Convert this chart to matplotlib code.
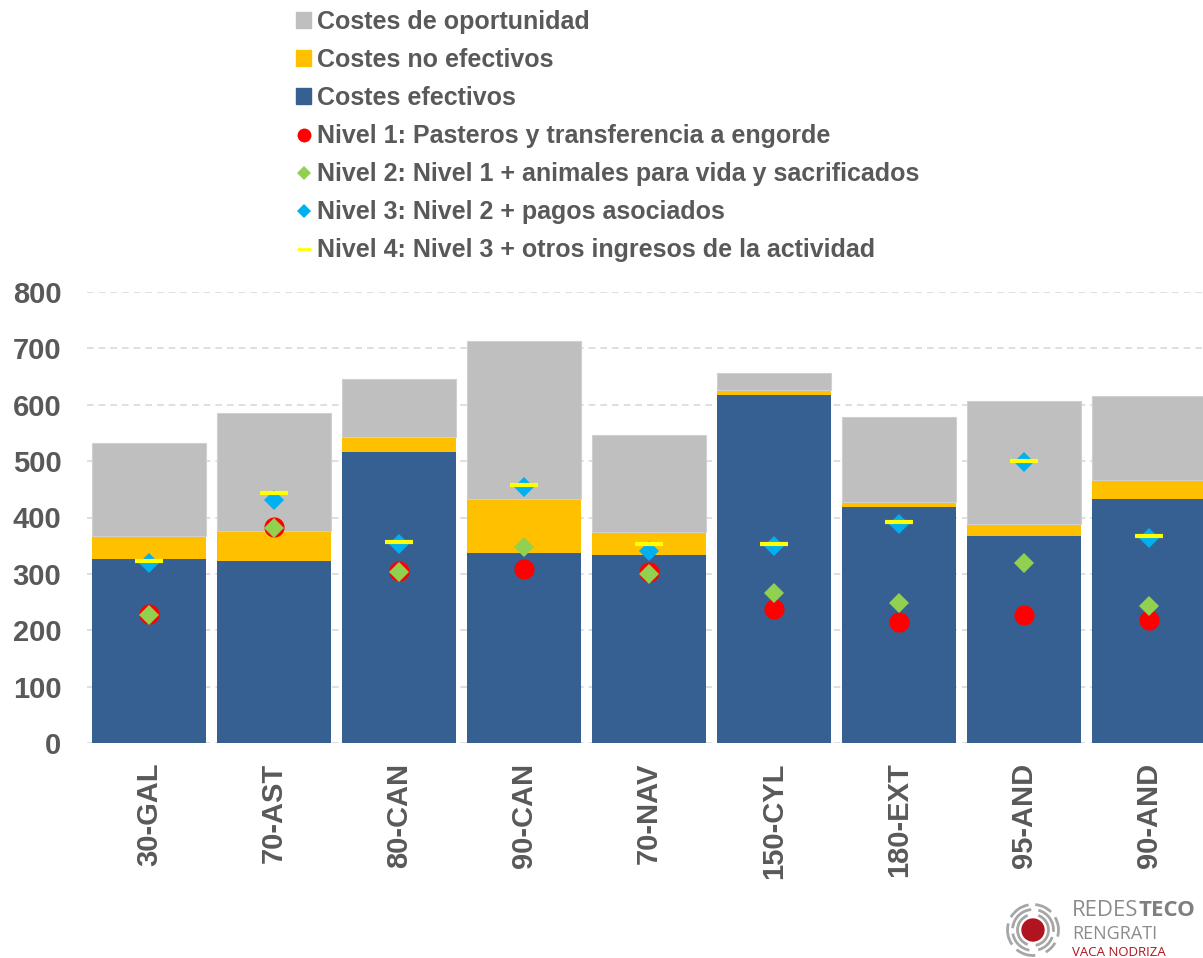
import matplotlib.pyplot as plt
from matplotlib.patches import Patch, Circle, Arc
from matplotlib.lines import Line2D

# Datos
categorias = ["30-GAL", "70-AST", "80-CAN", "90-CAN", "70-NAV", "150-CYL", "180-EXT", "95-AND", "90-AND"]
costes_efectivos = [326, 323, 516, 337, 333, 617, 418, 367, 432]
costes_no_efectivos = [42, 53, 26, 95, 41, 9, 9, 21, 34]
costes_oportunidad = [165, 210, 103, 281, 173, 31, 151, 218, 149]

nivel1 = [229, 384, 305, 308, 303, 238, 215, 227, 218]
nivel2 = [227, 382, 303, 347, 300, 266, 249, 319, 243]
nivel3 = [320, 431, 353, 454, 341, 350, 389, 498, 364]
nivel4 = [322, 443, 356, 457, 353, 353, 392, 501, 367]

etiquetas = [
    "Costes de oportunidad",
    "Costes no efectivos",
    "Costes efectivos",
    "Nivel 1: Pasteros y transferencia a engorde",
    "Nivel 2: Nivel 1 + animales para vida y sacrificados",
    "Nivel 3: Nivel 2 + pagos asociados",
    "Nivel 4: Nivel 3 + otros ingresos de la actividad",
]

# Colores
c_oport = "#BFBFBF"
c_noef = "#FFC000"
c_ef = "#376092"
c_n1 = "#FF0000"
c_n2 = "#92D050"
c_n3 = "#00B0F0"
c_n4 = "#FFFF00"
c_txt = "#595959"

plt.rcParams["font.family"] = ["Liberation Sans", "DejaVu Sans"]

W, H = 1203, 958
fig = plt.figure(figsize=(W / 100, H / 100), dpi=100)
ax = fig.add_axes([86.5 / W, 215 / H, (W - 86.5) / W, 451 / H])

x = list(range(len(categorias)))
ancho = 0.912
base2 = [a + b for a, b in zip(costes_efectivos, costes_no_efectivos)]

ax.bar(x, costes_efectivos, width=ancho, color=c_ef, zorder=2)
ax.bar(x, costes_no_efectivos, width=ancho, bottom=costes_efectivos, color=c_noef, zorder=2)
ax.bar(x, costes_oportunidad, width=ancho, bottom=base2, color=c_oport,
       edgecolor="#D0D0D0", linewidth=0.8, zorder=2)

ax.plot(x, nivel1, "o", color=c_n1, markersize=14.5, markeredgewidth=0, zorder=3)
ax.plot(x, nivel2, "D", color=c_n2, markersize=10, markeredgewidth=0, zorder=4)
ax.plot(x, nivel3, "D", color=c_n3, markersize=10, markeredgewidth=0, zorder=5)
ax.plot(x, nivel4, "_", color=c_n4, markersize=19.5, markeredgewidth=3, zorder=6)

ax.set_xlim(-0.5, -0.5 + (W - 86.5) / 125)
ax.set_ylim(0, 800)
ax.set_yticks(range(0, 801, 100))
ax.set_xticks(x)
ax.set_xticklabels(categorias, rotation=90, fontsize=21, fontweight="bold", color=c_txt)
ax.tick_params(axis="y", labelsize=21, labelcolor=c_txt, length=0, pad=18)
ax.tick_params(axis="x", length=0, pad=14)
for lab in ax.get_yticklabels():
    lab.set_fontweight("bold")

ax.yaxis.grid(True, linestyle=(0, (4, 3)), color="#D9D9D9", linewidth=1.2, zorder=0)
ax.set_axisbelow(True)
for s in ax.spines.values():
    s.set_visible(False)

# Leyenda
handles = [
    Patch(color=c_oport),
    Patch(color=c_noef),
    Patch(color=c_ef),
    Line2D([], [], marker="o", linestyle="", color=c_n1, markersize=10, markeredgewidth=0),
    Line2D([], [], marker="D", linestyle="", color=c_n2, markersize=7, markeredgewidth=0),
    Line2D([], [], marker="D", linestyle="", color=c_n3, markersize=7, markeredgewidth=0),
    Line2D([], [], marker="_", linestyle="", color=c_n4, markersize=10, markeredgewidth=2),
]
leg = fig.legend(handles, etiquetas, loc="upper left", bbox_to_anchor=(296 / W, 1 - 10 / H),
                 frameon=False, handlelength=0.6, handleheight=0.6,
                 handletextpad=0.25, labelspacing=0.56, borderpad=0, borderaxespad=0,
                 prop={"weight": "bold", "size": 18})
for t in leg.get_texts():
    t.set_color(c_txt)

# Logo
axl = fig.add_axes([1003 / W, (H - 960) / H, 60 / W, 60 / H])
axl.set_xlim(-30, 30)
axl.set_ylim(-30, 30)
axl.set_aspect("equal")
axl.axis("off")
axl.add_patch(Circle((0, 0), 11, color="#B0141E"))
anillos = [
    (15.5, [(110, 250), (280, 70)]),
    (20.5, [(95, 175), (190, 260), (285, 340), (355, 75)]),
    (25.5, [(100, 150), (165, 215), (230, 275), (300, 330), (345, 30), (45, 85)]),
]
for r, tramos in anillos:
    for t1, t2 in tramos:
        axl.add_patch(Arc((0, 0), 2 * r, 2 * r, theta1=t1, theta2=t2, color="#A6A6A6", linewidth=2))

fuente_logo = ["Open Sans", "DejaVu Sans"]
t_redes = fig.text(1072 / W, 1 - 911 / H, "REDES", fontsize=16, color="#8C8C8C", va="center",
                   family=fuente_logo)
fig.canvas.draw()
bb = t_redes.get_window_extent()
fig.text(bb.x1 / W, 1 - 911 / H, "TECO", fontsize=16, color="#7F7F7F", va="center",
         fontweight="bold", family=fuente_logo)
fig.text(1072 / W, 1 - 934 / H, "RENGRATI", fontsize=13, color="#8C8C8C", va="center",
         family=fuente_logo)
fig.text(1072 / W, 1 - 952 / H, "VACA NODRIZA", fontsize=9.5, color="#B0141E", va="center",
         family=fuente_logo)

fig.savefig("out.png", dpi=100)
